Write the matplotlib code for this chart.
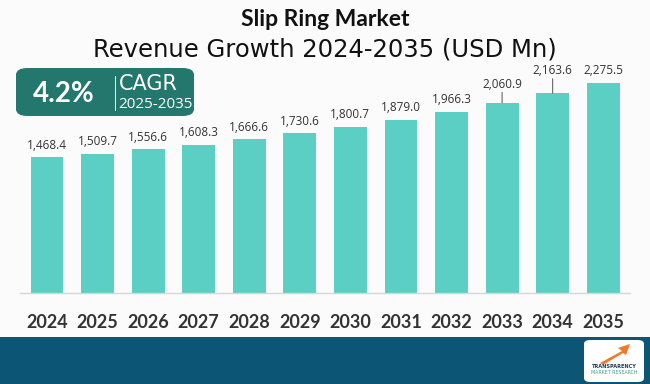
import matplotlib.pyplot as plt
from matplotlib.patches import FancyBboxPatch, Rectangle, Polygon

years = ['2024', '2025', '2026', '2027', '2028', '2029', '2030', '2031', '2032', '2033', '2034', '2035']
revenue = [1468.4, 1509.7, 1556.6, 1608.3, 1666.6, 1730.6, 1800.7, 1879.0, 1966.3, 2060.9, 2163.6, 2275.5]
# extra lift (points) for labels drawn with a leader line
label_lift = [0, 0, 0, 0, 0, 0, 0, 0, 0, 4.5, 7.5, 0]
cagr = '4.2%'
cagr_period = '2025-2035'

bar_color = '#5ccfc4'
band_color = '#0c5574'
box_color = '#23776c'
bg = '#fbfbfb'

fig = plt.figure(figsize=(6.5, 3.84), dpi=100, facecolor=bg)

ax = fig.add_axes([20 / 650, 91 / 384, 610 / 650, 253 / 384])
ax.set_facecolor('none')
x = range(len(years))
bars = ax.bar(x, revenue, width=0.65, color=bar_color, zorder=2)
ax.set_xlim(-0.534, 11.53)
ax.set_ylim(0, 2275.5 * 253 / 210)
for s in ['top', 'right', 'left']:
    ax.spines[s].set_visible(False)
ax.spines['bottom'].set_color('#d6d6d6')
ax.spines['bottom'].set_linewidth(1)
ax.set_yticks([])
ax.set_xticks(list(x))
ax.set_xticklabels(years, fontsize=13, fontweight='bold', color='#333333', family='Lato')
ax.tick_params(axis='x', length=0, pad=15)

for i, (b, v) in enumerate(zip(bars, revenue)):
    lift = label_lift[i]
    cx = b.get_x() + b.get_width() / 2
    ax.annotate(f'{v:,.1f}', (cx, v),
                xytext=(0, 4 + lift), textcoords='offset points',
                ha='center', va='bottom', fontsize=8.5, color='#333333', family='Open Sans')
    if lift:
        ax.annotate('', (cx, v), xytext=(0, lift + 3), textcoords='offset points',
                    arrowprops=dict(arrowstyle='-', color='#666666', lw=0.8,
                                    shrinkA=0, shrinkB=0))

# titles
fig.text(0.5, 1 - 20 / 384, 'Slip Ring Market', ha='center', va='center',
         fontsize=16.5, fontweight='bold', family='Lato', color='#111111')
fig.text(0.5, 1 - 49 / 384, 'Revenue Growth 2024-2035 (USD Mn)', ha='center', va='center',
         fontsize=17.5, family='DejaVu Sans', color='#111111')

# CAGR box
box = FancyBboxPatch((16 / 650, 1 - 116 / 384), 178 / 650, 48 / 384,
                     boxstyle='round,pad=0,rounding_size=0.018', transform=fig.transFigure,
                     facecolor=box_color, edgecolor='none')
fig.patches.append(box)
fig.text(64 / 650, 1 - 94 / 384, cagr, ha='center', va='center', fontsize=20,
         fontweight='bold', color='white', family='Lato')
fig.add_artist(plt.Line2D([115 / 650, 115 / 650], [1 - 110 / 384, 1 - 76 / 384],
                          color='white', lw=0.7, transform=fig.transFigure))
fig.text(148 / 650, 1 - 84 / 384, 'CAGR', ha='center', va='center', fontsize=15,
         color='white', family='DejaVu Sans')
fig.text(155 / 650, 1 - 104 / 384, cagr_period, ha='center', va='center', fontsize=11,
         color='white', family='Open Sans')

# bottom band and logo
fig.patches.append(Rectangle((0, 0), 1, 47 / 384, transform=fig.transFigure,
                             facecolor=band_color, edgecolor='none'))
logo = FancyBboxPatch((584 / 650, 2 / 384), 60 / 650, 42 / 384,
                      boxstyle='round,pad=0,rounding_size=0.01', transform=fig.transFigure,
                      facecolor='white', edgecolor='none')
fig.patches.append(logo)
fig.patches.append(Polygon([(600 / 650, 21 / 384), (622 / 650, 33 / 384), (618 / 650, 36 / 384),
                            (630 / 650, 40 / 384), (626 / 650, 29 / 384), (623 / 650, 31 / 384),
                            (603 / 650, 19 / 384)],
                           closed=True, transform=fig.transFigure, facecolor='#f07a2a', edgecolor='none'))
fig.text(614 / 650, 17 / 384, 'TRANSPARENCY', ha='center', va='center', fontsize=3.6,
         fontweight='bold', color='#1d3b5a', family='DejaVu Sans')
fig.text(614 / 650, 11 / 384, 'MARKET RESEARCH', ha='center', va='center', fontsize=3.4,
         color='#3aa58f', family='DejaVu Sans')

fig.savefig('out.png', dpi=100, facecolor=bg)
